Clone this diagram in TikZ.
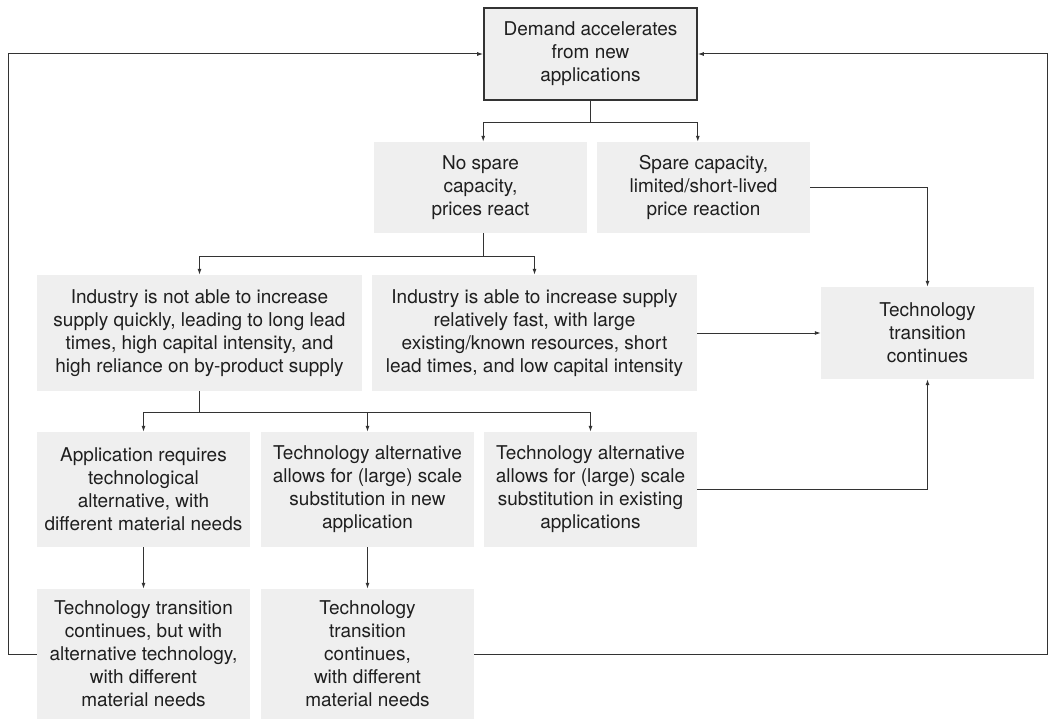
\documentclass[tikz,border=0pt]{standalone}
\usepackage{fontspec}
\setmainfont{TeX Gyre Heros}
\usetikzlibrary{arrows.meta}
\definecolor{boxgray}{HTML}{EFEFEF}
\definecolor{linegray}{HTML}{333333}
\begin{document}
\begin{tikzpicture}[x=1pt,y=-1pt,
	box/.style={fill=boxgray, text=black!88, align=center, inner sep=0pt, font=\fontsize{19}{23}\selectfont},
	topbox/.style={box, draw=linegray, line width=1.6pt},
	arr/.style={draw=linegray, line width=1pt, -{Latex[length=6pt,width=4pt]}}]
	\useasboundingbox (0,0) rectangle (1048,719);
	\node[topbox, minimum width=213pt, minimum height=92pt] (demand) at (590.5,54) {Demand accelerates\\from new\\applications};
	\node[box, minimum width=213pt, minimum height=91pt] (nospare) at (480.5,187.5) {No spare\\capacity,\\prices react};
	\node[box, minimum width=213pt, minimum height=91pt] (spare) at (703.5,187.5) {Spare capacity,\\limited/short-lived\\price reaction};
	\node[box, minimum width=325pt, minimum height=116pt] (notable) at (199.5,333) {Industry is not able to increase\\supply quickly, leading to long lead\\times, high capital intensity, and\\high reliance on by-product supply};
	\node[box, minimum width=325pt, minimum height=116pt] (able) at (534.5,333) {Industry is able to increase supply\\relatively fast, with large\\existing/known resources, short\\lead times, and low capital intensity};
	\node[box, minimum width=213pt, minimum height=92pt] (tech) at (927.5,333) {Technology\\transition\\continues};
	\node[box, minimum width=213pt, minimum height=115pt] (altreq) at (143.5,489.5) {Application requires\\technological\\alternative, with\\different material needs};
	\node[box, minimum width=213pt, minimum height=115pt] (altnew) at (367.5,489.5) {Technology alternative\\allows for (large) scale\\substitution in new\\application};
	\node[box, minimum width=213pt, minimum height=115pt] (altexist) at (590.5,489.5) {Technology alternative\\allows for (large) scale\\substitution in existing\\applications};
	\node[box, minimum width=213pt, minimum height=130pt] (alttech) at (143.5,654) {Technology transition\\continues, but with\\alternative technology,\\with different\\material needs};
	\node[box, minimum width=213pt, minimum height=130pt] (newmat) at (367.5,654) {Technology\\transition\\continues,\\with different\\material needs};
	\draw[arr] (demand.south) -- ++(0,22) -| (demand.west |- nospare.north);
	\draw[arr] (demand.south) -- ++(0,22) -| (demand.east |- spare.north);
	\draw[arr] (demand.west |- nospare.south) -- ++(0,23) -| (notable.north);
	\draw[arr] (demand.west |- nospare.south) -- ++(0,23) -| (able.north);
	\draw[arr] (spare.east) -| (tech.north);
	\draw[arr] (able.east) -- (tech.west);
	\draw[arr] (notable.south) -- ++(0,21) -| (altreq.north);
	\draw[arr] (notable.south) -- ++(0,21) -| (altnew.north);
	\draw[arr] (notable.south) -- ++(0,21) -| (altexist.north);
	\draw[arr] (altexist.east) -| (tech.south);
	\draw[arr] (altreq.south) -- (alttech.north);
	\draw[arr] (altnew.south) -- (newmat.north);
	\draw[arr] (alttech.west) -- ++(-28,0) |- (demand.west);
	\draw[arr] (newmat.east) -- ++(573,0) |- (demand.east);
\end{tikzpicture}
\end{document}
